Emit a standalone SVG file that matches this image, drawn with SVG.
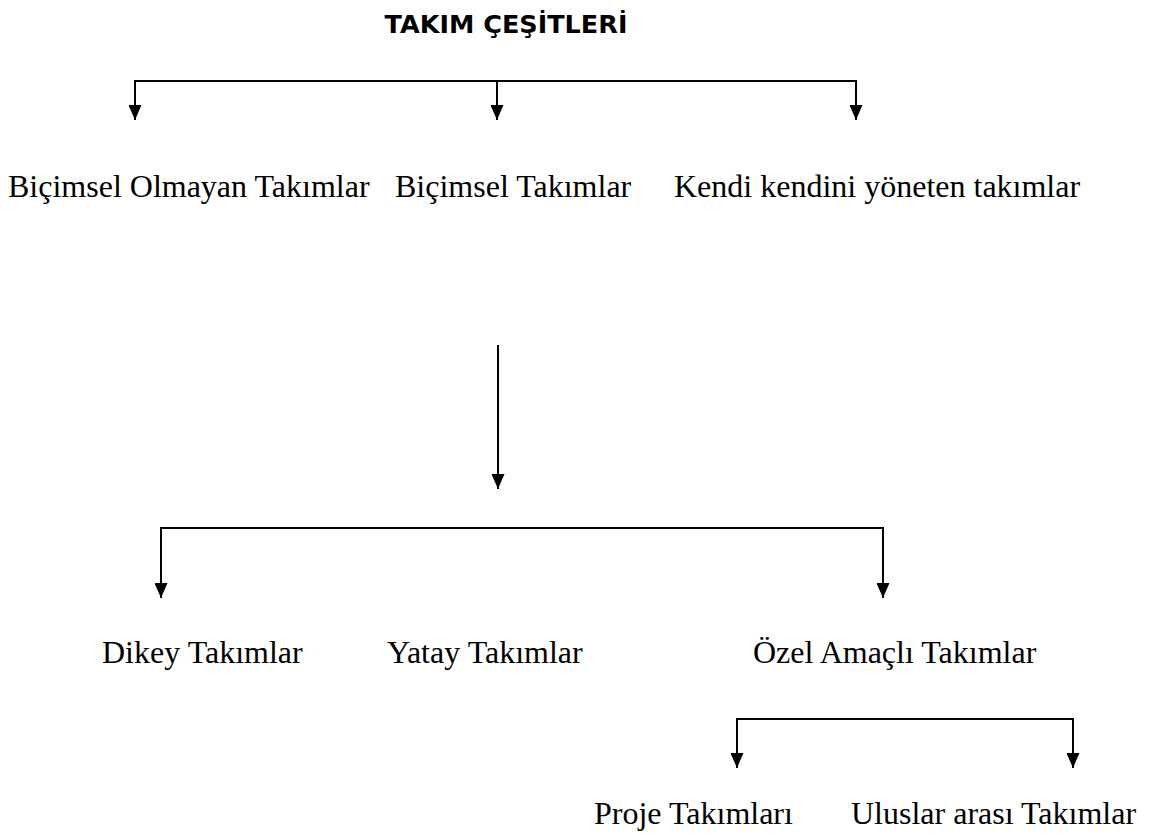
<svg xmlns="http://www.w3.org/2000/svg" width="1156" height="839" viewBox="0 0 1156 839">
<style>
.lbl{font-family:"Liberation Serif","Times New Roman",serif;font-size:32px;fill:#000}
.ttl{font-family:"DejaVu Sans","Liberation Sans",sans-serif;font-weight:bold;font-size:25.5px;fill:#000}
.ln{stroke:#000;stroke-width:2;fill:none}
</style>
<defs>
<marker id="ah" viewBox="0 0 15 13" refX="15" refY="6.5" markerWidth="15" markerHeight="13" markerUnits="userSpaceOnUse" orient="auto-start-reverse">
<path d="M0,0 L15,6.5 L0,13 Z" fill="#000"/>
</marker>
</defs>
<rect width="1156" height="839" fill="#fff"/>
<g id="connectors">
<path class="ln" d="M135,120 V81 H856 V120" marker-start="url(#ah)" marker-end="url(#ah)"/>
<path class="ln" d="M497,81 V120" marker-end="url(#ah)"/>
<path class="ln" d="M498,345 V489" marker-end="url(#ah)"/>
<path class="ln" d="M161,598 V528 H883 V598" marker-start="url(#ah)" marker-end="url(#ah)"/>
<path class="ln" d="M737,768 V719 H1073 V768" marker-start="url(#ah)" marker-end="url(#ah)"/>
</g>
<g id="title"><text class="ttl" x="506" y="33" text-anchor="middle">TAKIM ÇEŞİTLERİ</text></g>
<g id="n1"><text class="lbl" x="8" y="197">Biçimsel Olmayan Takımlar</text></g>
<g id="n2"><text class="lbl" x="395" y="197">Biçimsel Takımlar</text></g>
<g id="n3"><text class="lbl" x="674" y="197">Kendi kendini yöneten takımlar</text></g>
<g id="n4"><text class="lbl" x="102" y="663">Dikey Takımlar</text></g>
<g id="n5"><text class="lbl" x="387" y="663">Yatay Takımlar</text></g>
<g id="n6"><text class="lbl" x="753" y="663">Özel Amaçlı Takımlar</text></g>
<g id="n7"><text class="lbl" x="594" y="824">Proje Takımları</text></g>
<g id="n8"><text class="lbl" x="851" y="824">Uluslar arası Takımlar</text></g>
</svg>
